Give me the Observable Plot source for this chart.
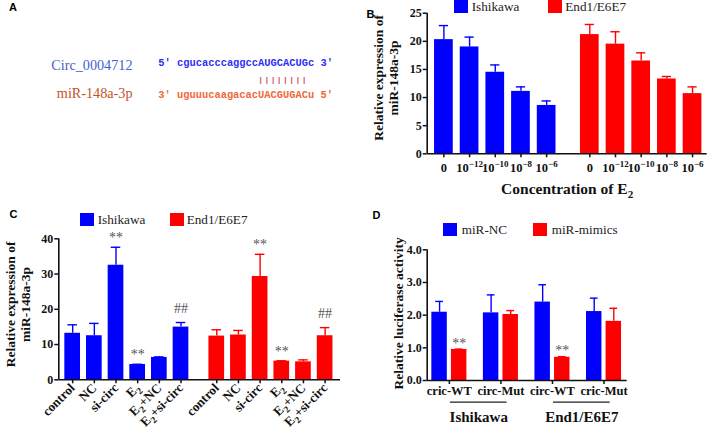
<!DOCTYPE html>
<html><head><meta charset="utf-8">
<script src="https://cdn.jsdelivr.net/npm/d3@7"></script>
<script src="https://cdn.jsdelivr.net/npm/@observablehq/plot@0.6"></script>
<style>
body{margin:0;background:#fff;}
#fig{position:relative;width:709px;height:430px;overflow:hidden;background:#fff;font-family:"Liberation Serif","Times New Roman",serif;}
#fig svg{position:absolute;}
.t{position:absolute;white-space:pre;}
.plab{font-family:"Liberation Sans",Arial,sans-serif;font-weight:bold;font-size:11px;line-height:12px;}
.sw{position:absolute;}
.lt{position:absolute;font-size:13.2px;line-height:14px;white-space:pre;color:#222;}
.seq{font-family:"Liberation Mono","DejaVu Sans Mono",monospace;font-weight:bold;font-size:10.4px;line-height:12px;}
</style></head>
<body><div id="fig"></div>
<script>
// ---------- data ----------
const cellLines = ["Ishikawa", "End1/E6E7"];
const cellColors = ["#0000ff", "#ff0000"];

// Panel A
const circName = "Circ_0004712";
const mirName = "miR-148a-3p";
const circSeq = "5' cgucacccaggccAUGCACUGc 3'";
const pairSeq = "                ||||||||";
const mirSeq = "3' uguuucaagacacUACGUGACu 5'";

// Panel B
const concLabels = ["0", "10⁻¹²", "10⁻¹⁰", "10⁻⁸", "10⁻⁶"];
const bIshMean = [20.3, 19.0, 14.5, 11.1, 8.6];
const bIshSD = [2.5, 1.75, 1.3, 0.8, 0.8];
const bEndMean = [21.2, 19.5, 16.5, 13.3, 10.7];
const bEndSD = [1.8, 2.2, 1.45, 0.45, 1.2];
const bTicks = [0, 5, 10, 15, 20, 25];

// Panel C
const treatLabels = ["control", "NC", "si-circ", "E₂", "E₂+NC", "E₂+si-circ"];
const cIshMean = [13.2, 12.5, 32.5, 4.35, 6.35, 14.95];
const cIshSD = [2.4, 3.5, 5.1, 0.05, 0.15, 1.3];
const cIshSig = ["", "", "**", "**", "", "##"];
const cEndMean = [12.4, 12.7, 29.3, 5.3, 5.1, 12.5];
const cEndSD = [1.8, 1.3, 6.3, 0.1, 0.55, 2.3];
const cEndSig = ["", "", "**", "**", "", "##"];
const cTicks = [0, 10, 20, 30, 40];

// Panel D
const constructLabels = ["cric-WT", "circ-Mut", "circ-WT", "cric-Mut"];
const constructCell = ["Ishikawa", "Ishikawa", "End1/E6E7", "End1/E6E7"];
const treatD = ["miR-NC", "miR-mimics"];
const dNCMean = [2.09, 2.07, 2.40, 2.11];
const dNCSD = [0.33, 0.55, 0.53, 0.41];
const dMimMean = [0.95, 2.02, 0.71, 1.81];
const dMimSD = [0.01, 0.12, 0.02, 0.40];
const dMimSig = ["**", "", "**", ""];
const dTicks = [0, 1, 2, 3, 4];

// ---------- helpers ----------
const fig = document.getElementById("fig");
const serif = "'Liberation Serif','Times New Roman',serif";
const baseStyle = {fontFamily: serif, fontSize: "12px", fontWeight: "bold", color: "#111", background: "transparent", overflow: "visible"};
function place(el, left, top) { el.style.left = left + "px"; el.style.top = top + "px"; fig.appendChild(el); return el; }
function text(str, cls, left, top, css = {}) {
  const d = document.createElement("div"); d.className = cls; d.textContent = str;
  Object.assign(d.style, css); return place(d, left, top);
}
function legend(labels, colors, sx, sy, tx) {
  labels.forEach((lab, i) => {
    const s = document.createElement("div"); s.className = "sw";
    Object.assign(s.style, {width: "14px", height: "13px", background: colors[i]});
    place(s, sx[i], sy);
    text(lab, "lt", tx[i], sy - 0.5);
  });
}
// unicode super/subscript characters -> raised/lowered tspans
const SUP = {"⁰":"0","¹":"1","²":"2","³":"3","⁴":"4","⁵":"5","⁶":"6","⁷":"7","⁸":"8","⁹":"9","⁻":"−"};
const SUB = {"₀":"0","₁":"1","₂":"2","₃":"3","₄":"4","₅":"5","₆":"6","₇":"7","₈":"8","₉":"9"};
function fixScripts(svg) {
  const NS = "http://www.w3.org/2000/svg";
  svg.querySelectorAll("text, tspan").forEach(t => {
    if (t.children.length) return;
    const s = t.textContent;
    if (![...s].some(ch => SUP[ch] || SUB[ch])) return;
    const runs = [];
    for (const ch of s) {
      const k = SUP[ch] ? "sup" : SUB[ch] ? "sub" : "n", v = SUP[ch] || SUB[ch] || ch;
      if (runs.length && runs[runs.length - 1].k === k) runs[runs.length - 1].v += v; else runs.push({k, v});
    }
    const size = parseFloat(t.closest("[font-size]")?.getAttribute("font-size")) || 12;
    t.textContent = "";
    let cur = 0;
    runs.forEach(r => {
      const ts = document.createElementNS(NS, "tspan");
      const off = r.k === "sup" ? -0.42 * size : r.k === "sub" ? 0.28 * size : 0;
      if (off !== cur) ts.setAttribute("dy", (off - cur).toFixed(2));
      cur = off;
      if (r.k !== "n") ts.setAttribute("font-size", (0.72 * size).toFixed(2));
      ts.textContent = r.v;
      t.appendChild(ts);
    });
  });
}

// ---------- Panel A ----------
text("A", "t plab", 9, 0.5);
text(circName, "t", 0, 56.5, {width: "132.5px", textAlign: "right", fontSize: "14.2px", lineHeight: "17px", color: "#3f5fd0"});
text(mirName, "t", 0, 84.5, {width: "132.5px", textAlign: "right", fontSize: "14.2px", lineHeight: "17px", color: "#c4521f"});
text(circSeq, "t seq", 158.3, 57.3, {color: "#2f2ff5"});
text(pairSeq, "t seq", 158.3, 74, {color: "#d24a60", fontSize: "8px", letterSpacing: "1.44px", lineHeight: "12px"});
text(mirSeq, "t seq", 158.3, 89, {color: "#f0683a"});

// ---------- Panel B ----------
const rowsB = [];
cellLines.forEach((cell, k) => concLabels.forEach((lab, i) => rowsB.push({
  cell, lab, pos: i + k * 5.68, mean: [bIshMean, bEndMean][k][i], sd: [bIshSD, bEndSD][k][i]
})));
const labB = new Map(rowsB.map(d => [d.pos, d.lab]));
const plotB = Plot.plot({
  width: 349, height: 215, marginLeft: 66.7, marginRight: 2.3, marginTop: 12.7, marginBottom: 61.7,
  style: baseStyle,
  x: {type: "linear", domain: [-0.65, 10.25]},
  y: {domain: [0, 25]},
  color: {domain: cellLines, range: cellColors},
  marks: [
    Plot.rect(rowsB, {x1: d => d.pos - 0.364, x2: d => d.pos + 0.364, y1: 0, y2: "mean", fill: "cell"}),
    Plot.ruleX(rowsB, {x: "pos", y1: "mean", y2: d => d.mean + d.sd, stroke: "cell", strokeWidth: 1.4}),
    Plot.ruleY(rowsB, {y: d => d.mean + d.sd, x1: d => d.pos - 0.18, x2: d => d.pos + 0.18, stroke: "cell", strokeWidth: 1.4}),
    Plot.ruleX([-0.65], {stroke: "#111", strokeWidth: 1.6}),
    Plot.ruleY([0], {stroke: "#111", strokeWidth: 1.6}),
    Plot.axisY({ticks: bTicks, tickSize: 4, tickPadding: 1.5, strokeWidth: 1.5, label: null}),
    Plot.axisX({ticks: rowsB.map(d => d.pos), tickFormat: d => labB.get(d), tickSize: 4, tickPadding: 5.5, strokeWidth: 1.5, fontSize: 12.5, label: null}),
    Plot.text(["Relative expression of\nmiR-148a-3p"], {frameAnchor: "left", textAnchor: "middle", rotate: -90, dx: -41.5, dy: -5.5, fontSize: 13.5, lineHeight: 15.5 / 13.5}),
    Plot.text(["Concentration of E₂"], {frameAnchor: "bottom", textAnchor: "middle", dy: 40, fontSize: 15.5})
  ]
});
fixScripts(plotB);
place(plotB, 360, 0);
text("B", "t plab", 366.5, 7.5);
legend(cellLines, cellColors, [454.3, 548.3], 0, [471.7, 565.3]);

// ---------- Panel C ----------
const rowsC = [];
cellLines.forEach((cell, k) => treatLabels.forEach((lab, i) => rowsC.push({
  cell, lab, pos: i + k * 6.65, mean: [cIshMean, cEndMean][k][i], sd: [cIshSD, cEndSD][k][i], sig: [cIshSig, cEndSig][k][i]
})));
const labC = new Map(rowsC.map(d => [d.pos, d.lab]));
const plotC = Plot.plot({
  width: 360, height: 235, marginLeft: 58.3, marginRight: 20, marginTop: 43.3, marginBottom: 50.7,
  style: baseStyle,
  x: {type: "linear", domain: [-0.64, 12.36]},
  y: {domain: [0, 40]},
  color: {domain: cellLines, range: cellColors},
  marks: [
    Plot.rect(rowsC, {x1: d => d.pos - 0.362, x2: d => d.pos + 0.362, y1: 0, y2: "mean", fill: "cell"}),
    Plot.ruleX(rowsC, {x: "pos", y1: "mean", y2: d => d.mean + d.sd, stroke: "cell", strokeWidth: 1.4}),
    Plot.ruleY(rowsC, {y: d => d.mean + d.sd, x1: d => d.pos - 0.22, x2: d => d.pos + 0.22, stroke: "cell", strokeWidth: 1.4}),
    Plot.ruleX([-0.64], {stroke: "#111", strokeWidth: 1.6}),
    Plot.ruleY([0], {stroke: "#111", strokeWidth: 1.6}),
    Plot.axisY({ticks: cTicks, tickSize: 4, tickPadding: 1.5, strokeWidth: 1.5, label: null}),
    Plot.axisX({ticks: rowsC.map(d => d.pos), tickFormat: d => labC.get(d), tickRotate: -45, tickSize: 4, tickPadding: 2, strokeWidth: 1.5, fontSize: 13, label: null}),
    Plot.text(rowsC.filter(d => d.sig === "**"), {x: "pos", y: d => d.mean + d.sd, text: "sig", lineAnchor: "bottom", dy: -5, fontSize: 14, fontWeight: "normal", fill: "#555"}),
    Plot.text(rowsC.filter(d => d.sig === "##"), {x: "pos", y: d => d.mean + d.sd, text: "sig", lineAnchor: "bottom", dy: -9.5, fontSize: 14, fontWeight: "normal", fill: "#555"}),
    Plot.text(["Relative expression of\nmiR-148a-3p"], {frameAnchor: "left", textAnchor: "middle", rotate: -90, dx: -40.8, dy: -4.8, fontSize: 13.5, lineHeight: 15 / 13.5})
  ]
});
fixScripts(plotC);
place(plotC, 0, 195);
text("C", "t plab", 9.5, 208);
legend(cellLines, cellColors, [80, 170], 213.3, [97.7, 186.7]);

// ---------- Panel D ----------
const rowsD = [];
constructLabels.forEach((lab, g) => treatD.forEach((t, j) => rowsD.push({
  lab, g, treat: t, pos: g + (j ? 0.19 : -0.19),
  mean: [dNCMean, dMimMean][j][g], sd: [dNCSD, dMimSD][j][g], sig: j ? dMimSig[g] : ""
})));
const dGroups = [];
constructCell.forEach((c, g) => {
  const last = dGroups[dGroups.length - 1];
  if (last && last.cell === c) last.to = g; else dGroups.push({cell: c, from: g, to: g});
});
const plotD = Plot.plot({
  width: 349, height: 235, marginLeft: 66.7, marginRight: 82.3, marginTop: 54.3, marginBottom: 50,
  style: baseStyle,
  x: {type: "linear", domain: [-0.43, 3.45]},
  y: {domain: [0, 4]},
  color: {domain: treatD, range: cellColors},
  marks: [
    Plot.rect(rowsD, {x1: d => d.pos - 0.15, x2: d => d.pos + 0.15, y1: 0, y2: "mean", fill: "treat"}),
    Plot.ruleX(rowsD, {x: "pos", y1: "mean", y2: d => d.mean + d.sd, stroke: "treat", strokeWidth: 1.4}),
    Plot.ruleY(rowsD, {y: d => d.mean + d.sd, x1: d => d.pos - 0.075, x2: d => d.pos + 0.075, stroke: "treat", strokeWidth: 1.4}),
    Plot.ruleX([-0.43], {stroke: "#111", strokeWidth: 1.6}),
    Plot.ruleY([0], {stroke: "#111", strokeWidth: 1.6}),
    Plot.axisY({ticks: dTicks, tickSize: 4, tickPadding: 1.5, strokeWidth: 1.5, label: null}),
    Plot.axisX({ticks: constructLabels.map((_, g) => g), tickFormat: g => constructLabels[g], tickSize: 4, tickPadding: 2, strokeWidth: 1.5, fontSize: 12.5, label: null}),
    Plot.text(rowsD.filter(d => d.sig), {x: "pos", y: d => d.mean + d.sd, text: "sig", lineAnchor: "bottom", dy: -1.5, fontSize: 14, fontWeight: "normal", fill: "#555"}),
    Plot.ruleY(dGroups, {y: 0, x1: d => d.from + 0.02, x2: d => d.to + 0.12, dy: 21.7, stroke: "#222", strokeWidth: 1.3}),
    Plot.text(dGroups, {x: d => (d.from + d.to) / 2 + 0.07, y: 0, text: "cell", dy: 36.7, fontSize: 15}),
    Plot.text(["Relative luciferase activity"], {frameAnchor: "left", textAnchor: "middle", rotate: -90, dx: -28.7, dy: -1.7, fontSize: 13.5})
  ]
});
fixScripts(plotD);
place(plotD, 360, 195);
text("D", "t plab", 372.5, 208.5);
legend(treatD, cellColors, [443.3, 533.3], 223.3, [461.7, 551.7]);
</script></body></html>
